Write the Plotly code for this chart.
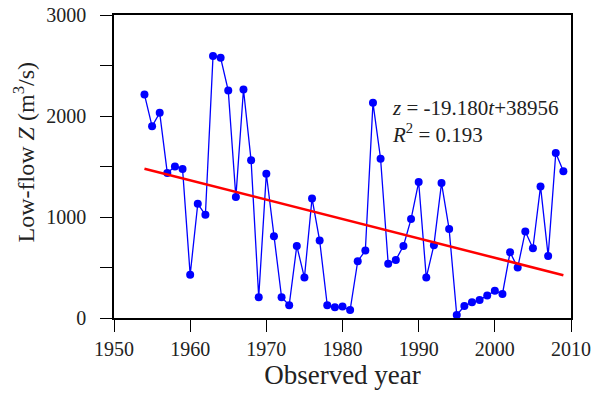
import plotly.graph_objects as go

years = list(range(1954, 2010))
low_flow = [2212, 1898, 2031, 1435, 1501, 1475, 427, 1131, 1022, 2593,
            2576, 2252, 1197, 2262, 1561, 205, 1428, 810, 205, 126,
            714, 400, 1184, 767, 126, 106, 113, 79, 562, 668,
            2130, 1577, 536, 575, 714, 979, 1346, 400, 721, 1336,
            880, 30, 119, 155, 179, 222, 271, 238, 651, 499,
            856, 691, 1303, 615, 1634, 1452]

slope = -19.180
intercept = 38956
trend_years = [1954, 2009]
trend_vals = [slope * t + intercept for t in trend_years]

x_ticks = [1950, 1960, 1970, 1980, 1990, 2000, 2010]
y_ticks = [0, 1000, 2000, 3000]

FONT = "Liberation Serif, Times New Roman, serif"

fig = go.Figure()
fig.add_trace(go.Scatter(
    x=years, y=low_flow, mode="lines+markers",
    line=dict(color="#0000FF", width=1.3),
    marker=dict(color="#0000FF", size=8),
    showlegend=False, cliponaxis=False))
fig.add_trace(go.Scatter(
    x=trend_years, y=trend_vals, mode="lines",
    line=dict(color="#FF0000", width=2.5),
    showlegend=False))

fig.add_annotation(x=1986.3, y=1950, xref="x", yref="y", xanchor="left", yanchor="middle",
                   align="left",
                   text="<i>z</i> = -19.180<i>t</i>+38956<br><i>R</i><sup>2</sup> = 0.193",
                   showarrow=False,
                   font=dict(family=FONT, size=21, color="#222"))
# y-axis title
fig.add_annotation(x=-0.198, y=0.545, xref="paper", yref="paper", xanchor="center",
                   yanchor="middle", textangle=-90, showarrow=False,
                   text="Low-flow <i>Z</i> (m<sup>3</sup>/s)",
                   font=dict(family=FONT, size=24, color="#222"))

fig.update_layout(
    width=593, height=403,
    margin=dict(l=114, r=22, t=15, b=85),
    plot_bgcolor="white", paper_bgcolor="white",
    font=dict(family=FONT, size=20, color="#222"),
    xaxis=dict(range=[1950, 2010], tickvals=x_ticks, ticks="outside", ticklen=12,
               tickwidth=1.3, tickcolor="black", showline=True, linecolor="black",
               linewidth=1.5, mirror=True, showgrid=False, zeroline=False,
               tickfont=dict(size=20), automargin=False, ticklabeloverflow="allow",
               title=dict(text="Observed year", font=dict(size=27), standoff=6)),
    yaxis=dict(range=[0, 3000], tickvals=y_ticks, ticks="outside",
               ticklen=12, tickwidth=1.3, tickcolor="black", showline=True,
               linecolor="black", linewidth=1.5, mirror=True, showgrid=False,
               zeroline=False, tickfont=dict(size=20), ticklabelstandoff=10,
               automargin=False, ticklabeloverflow="allow",
               minor=dict(dtick=500, tick0=0, ticks="outside", ticklen=12,
                          tickwidth=1.3, tickcolor="black", showgrid=False)),
)

fig.write_html("out.html", config={"displayModeBar": False},
               post_script="document.body.style.margin='0';document.body.style.overflow='hidden';")
